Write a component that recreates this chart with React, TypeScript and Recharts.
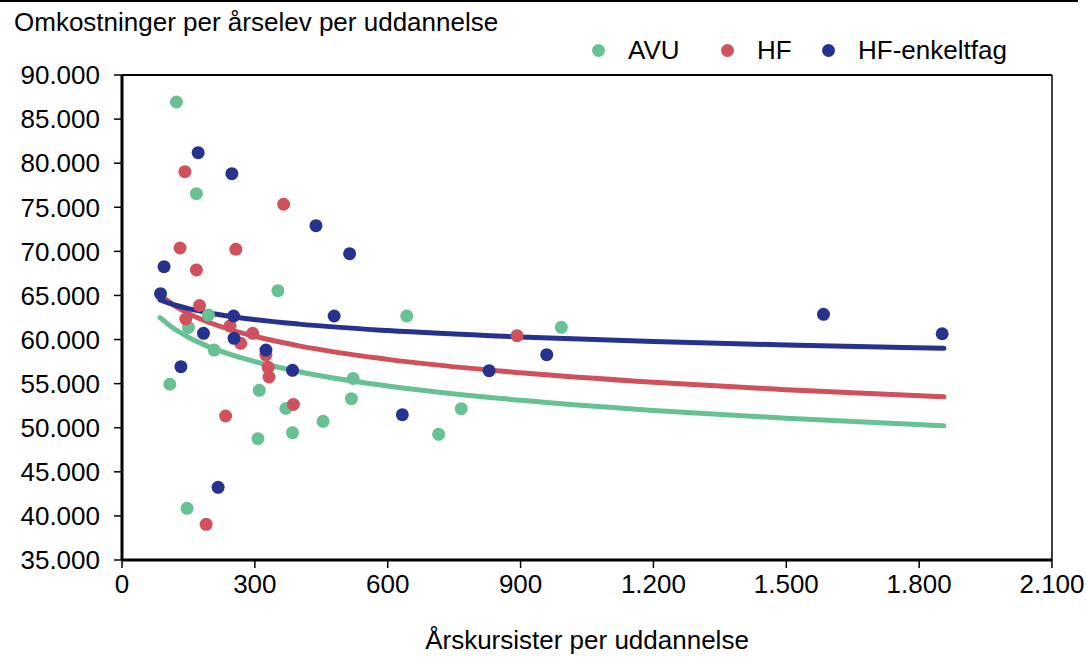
import React from 'react';
import { ComposedChart, Scatter, Line, XAxis, YAxis, ReferenceLine } from 'recharts';

// Årskursister (x) og omkostninger per årselev (y)
const avuX = [123, 168, 352, 643, 195, 150, 208, 108, 310, 370, 307, 385, 454, 518, 522, 147, 766, 715, 992];
const avuY = [86940, 76540, 65540, 62670, 62780, 61370, 58810, 54930, 54240, 52180, 48760, 49440, 50730, 53290, 55580, 40860, 52160, 49250, 61390];

const hfX = [142, 365, 131, 257, 168, 175, 144, 244, 295, 268, 325, 330, 332, 387, 234, 190, 892];
const hfY = [79040, 75340, 70380, 70230, 67890, 63860, 62330, 61540, 60710, 59570, 58250, 56850, 55750, 52640, 51330, 39050, 60440];

const enkX = [172, 248, 438, 514, 95, 87, 479, 252, 184, 253, 325, 385, 133, 217, 633, 829, 959, 1584, 1852];
const enkY = [81190, 78810, 72910, 69740, 68260, 65200, 62670, 62670, 60710, 60140, 58810, 56510, 56920, 43240, 51470, 56470, 58280, 62860, 60660];

// tendenslinjer, aflæst langs kurverne
const trendX = [86, 110, 150, 200, 250, 400, 600, 900, 1200, 1500, 1856];
const avuTrend = [62480, 61500, 60260, 59110, 58220, 56350, 54730, 53110, 51960, 51070, 50220];
const hfTrend = [65050, 64130, 62960, 61880, 61040, 59280, 57750, 56230, 55150, 54310, 53510];
const enkTrend = [64500, 64060, 63500, 62990, 62590, 61750, 61020, 60290, 59780, 59380, 59000];

const xTicks = [0, 300, 600, 900, 1200, 1500, 1800, 2100];
const yTicks = [35000, 40000, 45000, 50000, 55000, 60000, 65000, 70000, 75000, 80000, 85000, 90000];

const GREEN = '#67C195';
const RED = '#D0505C';
const BLUE = '#27318E';

const FONT = '"Liberation Sans", Arial, sans-serif';
const FS = 26;

const pts = (xs: number[], ys: number[]) => xs.map((x, i) => ({ x, y: ys[i] }));
const fmt = (v: number) => v.toLocaleString('de-DE');

const legendItems = [
  { name: 'AVU', color: GREEN, dot: 598 },
  { name: 'HF', color: RED, dot: 727 },
  { name: 'HF-enkeltfag', color: BLUE, dot: 828 },
];

const txt = { position: 'absolute' as const, fontFamily: FONT, fontSize: FS, color: '#000', lineHeight: '30px', whiteSpace: 'nowrap' as const };

export default function App() {
  const tickStyle = { fontFamily: FONT, fontSize: FS, fill: '#000' };
  return (
    <div style={{ position: 'absolute', left: 0, top: 0, width: 1086, height: 657, background: '#fff' }}>
      <div style={{ position: 'absolute', left: 0, top: 0, width: 1078, borderTop: '2px solid #000' }} />
      <div style={{ ...txt, left: 14, top: 7 }}>Omkostninger per årselev per uddannelse</div>
      {legendItems.map((s) => (
        <React.Fragment key={s.name}>
          <span style={{ position: 'absolute', left: s.dot - 6.5, top: 43.5, width: 13, height: 13, borderRadius: '50%', background: s.color }} />
          <div style={{ ...txt, left: s.dot + 30, top: 35 }}>{s.name}</div>
        </React.Fragment>
      ))}
      <div style={{ ...txt, left: 0, width: 1086, top: 625, textAlign: 'center', paddingLeft: 88, boxSizing: 'border-box' }}>
        Årskursister per uddannelse
      </div>
      <ComposedChart width={1086} height={657} margin={{ top: 75, right: 34, left: 0, bottom: 57 }} style={{ position: 'absolute', left: 0, top: 0 }}>
        <XAxis
          type="number"
          dataKey="x"
          domain={[0, 2100]}
          ticks={xTicks}
          tickFormatter={fmt}
          allowDataOverflow
          height={40}
          axisLine={{ stroke: '#000', strokeWidth: 3 }}
          tickLine={{ stroke: '#000', strokeWidth: 1.5 }}
          tickSize={8}
          tickMargin={7}
          tick={tickStyle}
        />
        <YAxis
          type="number"
          dataKey="y"
          domain={[35000, 90000]}
          ticks={yTicks}
          tickFormatter={fmt}
          allowDataOverflow
          width={122}
          axisLine={{ stroke: '#000', strokeWidth: 3 }}
          tickLine={{ stroke: '#000', strokeWidth: 1.5 }}
          tickSize={8}
          tickMargin={14}
          tick={tickStyle}
        />
        <ReferenceLine y={90000} stroke="#000" strokeWidth={2} />
        <ReferenceLine x={2100} stroke="#000" strokeWidth={1.5} />
        <Scatter name="AVU" data={pts(avuX, avuY)} fill={GREEN} isAnimationActive={false}
          shape={(p: any) => <circle cx={p.cx} cy={p.cy} r={6.5} fill={GREEN} />} />
        <Scatter name="HF" data={pts(hfX, hfY)} fill={RED} isAnimationActive={false}
          shape={(p: any) => <circle cx={p.cx} cy={p.cy} r={6.5} fill={RED} />} />
        <Scatter name="HF-enkeltfag" data={pts(enkX, enkY)} fill={BLUE} isAnimationActive={false}
          shape={(p: any) => <circle cx={p.cx} cy={p.cy} r={6.5} fill={BLUE} />} />
        <Line data={pts(trendX, avuTrend)} dataKey="y" type="monotone" stroke={GREEN} strokeWidth={5}
          strokeLinecap="round" dot={false} legendType="none" isAnimationActive={false} />
        <Line data={pts(trendX, hfTrend)} dataKey="y" type="monotone" stroke={RED} strokeWidth={5}
          strokeLinecap="round" dot={false} legendType="none" isAnimationActive={false} />
        <Line data={pts(trendX, enkTrend)} dataKey="y" type="monotone" stroke={BLUE} strokeWidth={5}
          strokeLinecap="round" dot={false} legendType="none" isAnimationActive={false} />
      </ComposedChart>
    </div>
  );
}
